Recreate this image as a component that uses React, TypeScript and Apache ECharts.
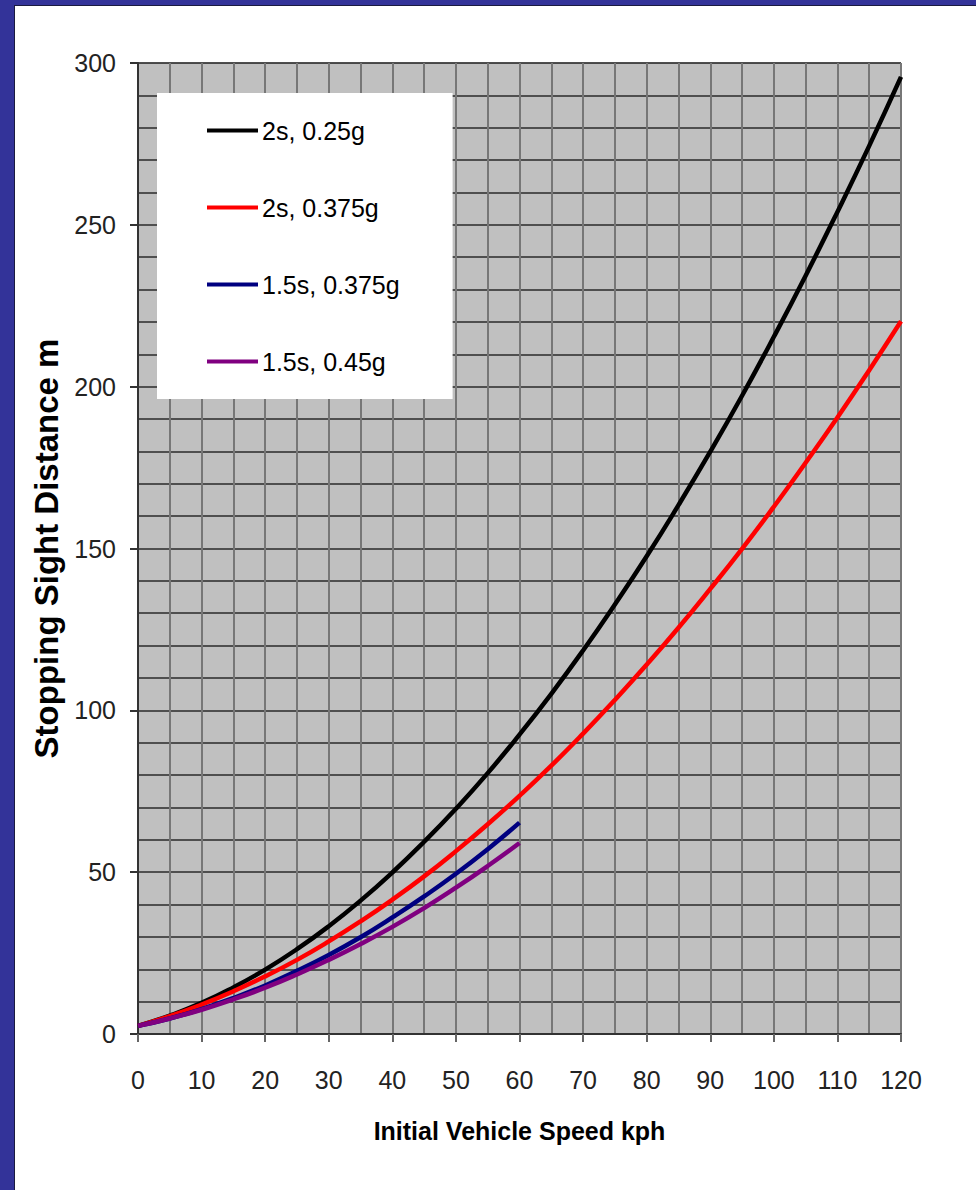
import React, { useEffect, useRef } from "react";
import * as echarts from "echarts";

const speeds = [0, 5, 10, 15, 20, 25, 30, 35, 40, 45, 50, 55, 60, 65, 70, 75, 80, 85, 90, 95, 100, 105, 110, 115, 120];
const speedsTo60 = [0, 5, 10, 15, 20, 25, 30, 35, 40, 45, 50, 55, 60];

const black2s025g = [2.5, 5.7, 9.6, 14.4, 19.9, 26.2, 33.3, 41.2, 49.9, 59.4, 69.6, 80.6, 92.5, 105.1, 118.5, 132.7, 147.6, 163.4, 179.9, 197.2, 215.4, 234.3, 254.0, 274.4, 295.7];
const red2s0375g = [2.5, 5.5, 9.1, 13.2, 17.8, 22.9, 28.6, 34.8, 41.5, 48.7, 56.5, 64.8, 73.6, 82.9, 92.8, 103.2, 114.1, 125.5, 137.5, 149.9, 162.9, 176.5, 190.5, 205.1, 220.2];
const blue15s0375g = [2.5, 4.8, 7.7, 11.1, 15.0, 19.5, 24.4, 29.9, 36.0, 42.5, 49.5, 57.1, 65.3];
const purple15s045g = [2.5, 4.8, 7.5, 10.7, 14.3, 18.4, 22.9, 27.8, 33.1, 38.9, 45.2, 51.9, 59.0];

const seriesNames = ["2s, 0.25g", "2s, 0.375g", "1.5s, 0.375g", "1.5s, 0.45g"];
const seriesColors = ["#000000", "#ff0000", "#000080", "#800080"];

const FONT = "'Liberation Sans', Arial, sans-serif";

function pairs(xs: number[], ys: number[]) {
  return ys.map((y, i) => [xs[i], y]);
}

export default function App() {
  const ref = useRef<HTMLDivElement>(null);
  useEffect(() => {
    document.body.style.margin = "0";
    if (!ref.current) return;
    const chart = echarts.init(ref.current, undefined, { renderer: "svg" });
    const dataSets = [
      pairs(speeds, black2s025g),
      pairs(speeds, red2s0375g),
      pairs(speedsTo60, blue15s0375g),
      pairs(speedsTo60, purple15s045g),
    ];
    chart.setOption({
      animation: false,
      backgroundColor: "#ffffff",
      graphic: [
        { type: "rect", shape: { x: 0, y: 0, width: 976, height: 5 }, style: { fill: "#333399" }, z: 100 },
        { type: "rect", shape: { x: 0, y: 0, width: 14, height: 1190 }, style: { fill: "#333399" }, z: 100 },
        { type: "line", shape: { x1: 14, y1: 5.5, x2: 976, y2: 5.5 }, style: { stroke: "#1a1a40", lineWidth: 1 }, z: 100 },
        { type: "line", shape: { x1: 14.5, y1: 5, x2: 14.5, y2: 1190 }, style: { stroke: "#1a1a40", lineWidth: 1 }, z: 100 },
      ],
      grid: {
        left: 138,
        right: 75,
        top: 63,
        bottom: 156,
        show: true,
        backgroundColor: "#c0c0c0",
        borderColor: "#808080",
        borderWidth: 1,
      },
      legend: {
        orient: "vertical",
        left: 157,
        top: 93,
        backgroundColor: "#ffffff",
        padding: [25, 53, 25, 50],
        itemGap: 52,
        itemWidth: 51,
        itemHeight: 4,
        icon: "rect",
        data: seriesNames,
        textStyle: { fontFamily: FONT, fontSize: 25, color: "#000", padding: [0, 0, 0, -1] },
      },
      xAxis: {
        type: "value",
        min: 0,
        max: 120,
        interval: 10,
        name: "Initial Vehicle Speed kph",
        nameLocation: "middle",
        nameGap: 84,
        nameTextStyle: { fontFamily: FONT, fontSize: 25, fontWeight: "bold", color: "#000" },
        axisLine: { show: true, onZero: false, lineStyle: { color: "#333", width: 2 } },
        axisTick: { show: true, length: 8, lineStyle: { color: "#666", width: 2 } },
        axisLabel: { fontFamily: FONT, fontSize: 25, color: "#222", margin: 33 },
        splitLine: { show: true, lineStyle: { color: "#777777", width: 2 } },
        minorTick: { show: false, splitNumber: 2 },
        minorSplitLine: { show: true, lineStyle: { color: "#777777", width: 2 } },
      },
      yAxis: {
        type: "value",
        min: 0,
        max: 300,
        interval: 50,
        name: "Stopping Sight Distance m",
        nameLocation: "middle",
        nameGap: 72,
        nameTextStyle: { fontFamily: FONT, fontSize: 33, fontWeight: "bold", color: "#000" },
        axisLine: { show: true, onZero: false, lineStyle: { color: "#333", width: 2 } },
        axisTick: { show: true, length: 8, lineStyle: { color: "#333", width: 2 } },
        axisLabel: { fontFamily: FONT, fontSize: 25, color: "#222", margin: 22 },
        splitLine: { show: true, lineStyle: { color: "#2a2a2a", width: 1.5 } },
        minorTick: { show: false, splitNumber: 5 },
        minorSplitLine: { show: true, lineStyle: { color: "#2a2a2a", width: 1.5 } },
      },
      series: seriesNames.map((name, i) => ({
        name,
        type: "line",
        data: dataSets[i],
        smooth: true,
        showSymbol: false,
        symbol: "none",
        color: seriesColors[i],
        lineStyle: { color: seriesColors[i], width: 4.5 },
        z: 3 + i,
      })),
    });
    return () => chart.dispose();
  }, []);
  return <div ref={ref} style={{ width: 976, height: 1190 }} />;
}
